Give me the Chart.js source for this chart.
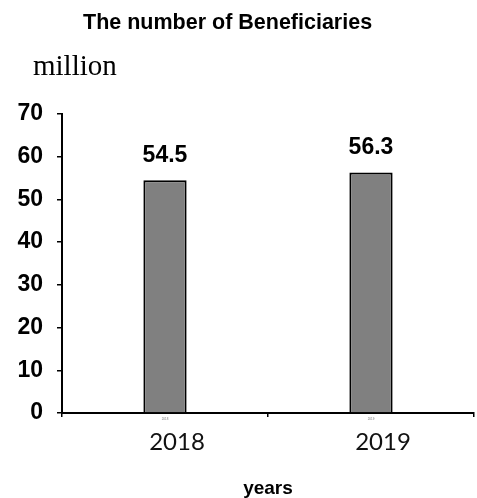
<!DOCTYPE html>
<html>
<head>
<meta charset="utf-8">
<script src="https://cdn.jsdelivr.net/npm/chart.js@4/dist/chart.umd.min.js"></script>
<style>
  html, body { margin: 0; padding: 0; background: #fff; }
  #wrap { position: relative; width: 477px; height: 498px; }
  #chart { position: absolute; left: 0; top: 0; }
  .title { position: absolute; left: 83px; top: 12px; font: bold 21.5px "Liberation Sans", Arial, sans-serif; line-height: 21.5px; color: #000; white-space: nowrap; }
  .unit { position: absolute; left: 33px; top: 51px; font: 29px "Liberation Serif", "Times New Roman", serif; line-height: 29px; color: #000; }
</style>
</head>
<body>
<div id="wrap">
  <canvas id="chart" width="477" height="498"></canvas>
  <div class="title">The number of Beneficiaries</div>
  <div class="unit">million</div>
</div>
<script>
const years = ['2018', '2019']
const beneficiaries = [54.5, 56.3]
const yTicks = [0, 10, 20, 30, 40, 50, 60, 70]

// value labels above the bars
const valueLabels = {
  id: 'valueLabels',
  afterDatasetsDraw(chart) {
    const ctx = chart.ctx
    const meta = chart.getDatasetMeta(0)
    ctx.save()
    ctx.font = 'bold 23px "Liberation Sans", Arial, sans-serif'
    ctx.fillStyle = '#000'
    ctx.textAlign = 'center'
    ctx.textBaseline = 'middle'
    meta.data.forEach((bar, i) => {
      ctx.fillText(beneficiaries[i].toFixed(1), bar.x, bar.y - 25)
    })
    ctx.restore()
  }
}

new Chart(document.getElementById('chart'), {
  type: 'bar',
  data: {
    labels: years,
    datasets: [{
      data: beneficiaries,
      backgroundColor: '#808080',
      borderColor: '#000',
      borderWidth: 2,
      barPercentage: 0.21,
      categoryPercentage: 1
    }]
  },
  options: {
    responsive: false,
    animation: false,
    devicePixelRatio: 1,
    layout: { padding: { top: 114, right: 3, left: 0, bottom: 0 } },
    plugins: {
      legend: { display: false },
      tooltip: { enabled: false }
    },
    scales: {
      y: {
        min: 0,
        max: 70,
        afterFit: (scale) => { scale.width = 62 },
        afterBuildTicks: (scale) => { scale.ticks = yTicks.map(v => ({ value: v })) },
        border: { color: '#000', width: 2 },
        grid: { drawOnChartArea: false, color: '#000', lineWidth: 1.5, tickLength: 5 },
        ticks: {
          color: '#000',
          padding: 14,
          font: { family: '"Liberation Sans", Arial, sans-serif', size: 23, weight: 'bold' }
        }
      },
      x: {
        position: 'bottom',
        afterFit: (scale) => { scale.height = 12 },
        border: { color: '#000', width: 2 },
        grid: { offset: true, drawOnChartArea: false, color: '#000', lineWidth: 1.5, tickLength: 4 },
        ticks: {
          color: '#777',
          padding: 0,
          font: { family: '"Liberation Sans", Arial, sans-serif', size: 3 }
        }
      },
      x2: {
        type: 'category',
        position: 'bottom',
        labels: years,
        afterFit: (scale) => { scale.height = 73 },
        border: { display: false },
        grid: { display: false },
        ticks: {
          color: '#111',
          padding: -5,
          labelOffset: 12,
          font: { family: 'Lato, "Open Sans", sans-serif', size: 24 }
        },
        title: {
          display: true,
          text: 'years',
          color: '#000',
          padding: { top: 0, bottom: 0 },
          font: { family: '"Liberation Sans", Arial, sans-serif', size: 19, weight: 'bold', lineHeight: 1 }
        }
      }
    }
  },
  plugins: [valueLabels]
})
</script>
</body>
</html>
